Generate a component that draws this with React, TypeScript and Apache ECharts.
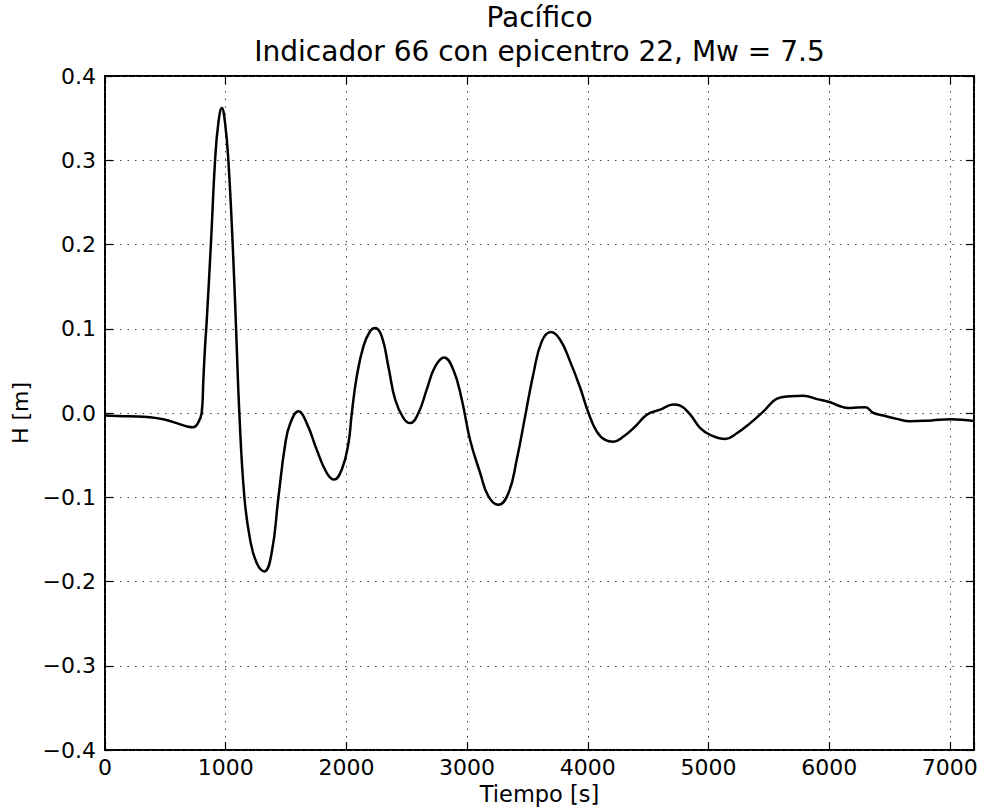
import React, { useEffect, useRef } from "react";
import * as echarts from "echarts";

// Water surface elevation record at the tide gauge
const timeSec: number[] = [
  0, 200, 373, 500, 594, 680, 730, 770, 801, 815, 829, 843, 879, 912, 939, 968,
  995, 1022, 1058, 1086, 1113, 1155, 1202, 1257, 1321, 1381, 1437, 1492, 1533,
  1603, 1671, 1754, 1837, 1898, 1962, 2017, 2045, 2086, 2141, 2196, 2238, 2293,
  2348, 2404, 2473, 2528, 2597, 2666, 2735, 2810, 2887, 2956, 3025, 3108, 3177,
  3260, 3343, 3412, 3481, 3550, 3619, 3694, 3771, 3854, 3937, 4006, 4075, 4144,
  4213, 4296, 4393, 4490, 4600, 4710, 4766, 4849, 4932, 5014, 5139, 5235, 5346,
  5456, 5567, 5680, 5788, 5899, 6009, 6092, 6161, 6230, 6299, 6368, 6451, 6560,
  6672, 6850, 7004, 7100, 7200,
];
const heightM: number[] = [
  -0.003, -0.004, -0.005, -0.008, -0.012, -0.016, -0.017, -0.012, 0.0, 0.04,
  0.079, 0.11, 0.205, 0.3, 0.344, 0.362, 0.344, 0.3, 0.2, 0.1, 0.0, -0.1, -0.15,
  -0.178, -0.188, -0.166, -0.1, -0.038, -0.013, 0.002, -0.012, -0.0435, -0.071,
  -0.079, -0.067, -0.036, 0.0, 0.0435, 0.079, 0.097, 0.101, 0.091, 0.055, 0.016,
  -0.006, -0.012, 0.0, 0.028, 0.055, 0.066, 0.051, 0.016, -0.032, -0.071,
  -0.099, -0.109, -0.095, -0.055, -0.004, 0.047, 0.085, 0.096, 0.087, 0.061,
  0.03, 0.0, -0.022, -0.032, -0.034, -0.028, -0.016, -0.002, 0.004, 0.01,
  0.0087, -0.002, -0.018, -0.026, -0.031, -0.024, -0.012, 0.002, 0.017, 0.02,
  0.0206, 0.0165, 0.0127, 0.008, 0.006, 0.0065, 0.0067, 0.0, -0.003, -0.007,
  -0.0099, -0.0088, -0.0075, -0.008, -0.0095,
];

const titleLines: string[] = ["Pacífico", "Indicador 66 con epicentro 22, Mw = 7.5"];
const xName = "Tiempo [s]";
const yName = "H [m]";

const FONT = "DejaVu Sans";

function fmtY(v: number): string {
  const r = Math.round(v * 10) / 10;
  if (r < 0) return "\u2212" + Math.abs(r).toFixed(1);
  return Math.abs(r).toFixed(1);
}

export default function App() {
  const ref = useRef<HTMLDivElement>(null);

  useEffect(() => {
    if (!ref.current) return;
    const chart = echarts.init(ref.current, undefined, { renderer: "svg" });
    const gridLine = {
      show: true,
      lineStyle: { color: "#444", width: 1, type: [1.5, 6] as number[] },
    };
    const tick = { show: true, inside: true, length: 8, lineStyle: { color: "#000", width: 1.2 } };
    const hiddenLine = { show: false, onZero: false };
    chart.setOption({
      animation: false,
      backgroundColor: "#fff",
      grid: {
        left: 105,
        right: 8,
        top: 76,
        bottom: 61,
        show: true,
        borderColor: "#000",
        borderWidth: 2,
        backgroundColor: "transparent",
      },
      title: [
        {
          text: titleLines.join("\n"),
          left: 539.5,
          textAlign: "center",
          top: 0,
          padding: 0,
          textStyle: { fontFamily: FONT, fontSize: 28, fontWeight: "normal", color: "#000", lineHeight: 34 },
        },
      ],
      xAxis: [
        {
          type: "value",
          min: 0,
          max: 7200,
          interval: 1000,
          name: xName,
          nameLocation: "middle",
          nameGap: 25,
          nameTextStyle: { fontFamily: FONT, fontSize: 22.5, color: "#000" },
          axisLine: hiddenLine,
          axisTick: tick,
          splitLine: gridLine,
          axisLabel: {
            fontFamily: FONT,
            fontSize: 22,
            color: "#000",
            margin: 6,
            formatter: (v: number) => (v > 7000 ? "" : String(v)),
          },
        },
        {
          type: "value",
          position: "top",
          min: 0,
          max: 7200,
          interval: 1000,
          axisLine: hiddenLine,
          axisTick: tick,
          splitLine: { show: false },
          axisLabel: { show: false },
        },
      ],
      yAxis: [
        {
          type: "value",
          min: -0.4,
          max: 0.4,
          interval: 0.1,
          name: yName,
          nameLocation: "middle",
          nameGap: 70,
          nameTextStyle: { fontFamily: FONT, fontSize: 22, color: "#000" },
          axisLine: hiddenLine,
          axisTick: tick,
          splitLine: gridLine,
          axisLabel: { fontFamily: FONT, fontSize: 22, color: "#000", margin: 9, formatter: fmtY },
        },
        {
          type: "value",
          position: "right",
          min: -0.4,
          max: 0.4,
          interval: 0.1,
          axisLine: hiddenLine,
          axisTick: tick,
          splitLine: { show: false },
          axisLabel: { show: false },
        },
      ],
      series: [
        {
          type: "line",
          data: timeSec.map((t, i) => [t, heightM[i]]),
          showSymbol: false,
          smooth: 0.45,
          lineStyle: { color: "#000", width: 2.5 },
          z: 3,
        },
      ],
    });
    return () => chart.dispose();
  }, []);

  return (
    <div
      ref={ref}
      style={{ position: "absolute", left: 0, top: 0, width: 982, height: 811, background: "#fff" }}
    />
  );
}
